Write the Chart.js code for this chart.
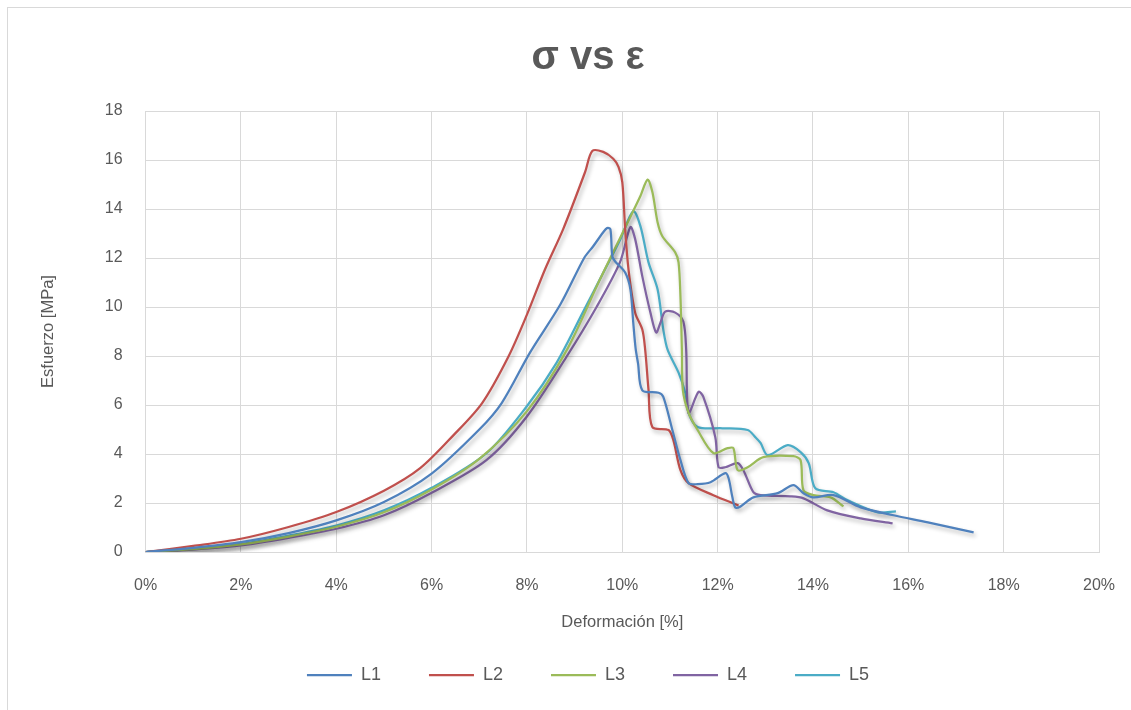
<!DOCTYPE html>
<html>
<head>
<meta charset="utf-8">
<script src="https://cdn.jsdelivr.net/npm/chart.js@4.4.1/dist/chart.umd.min.js"></script>
<style>
  html, body { margin: 0; padding: 0; background: #ffffff; overflow: hidden; }
  #wrap {
    position: absolute; left: 7px; top: 7px;
    width: 1160px; height: 720px;
    border: 1px solid #d9d9d9; background: #ffffff;
  }
</style>
</head>
<body>
<div id="wrap"><canvas id="chart"></canvas></div>
<script>
// Deformación [%] / Esfuerzo [MPa] por probeta
const l1Strain = [0, 1, 2, 3, 4, 5, 6, 7, 7.47, 8.06, 8.7, 9.2, 9.39, 9.6, 9.68, 9.75, 9.79, 9.85, 10.06, 10.17, 10.23, 10.28, 10.33, 10.42, 10.76, 10.86, 11.05, 11.22, 11.39, 11.58, 11.85, 12.16, 12.23, 12.31, 12.37, 12.48, 12.75, 13.26, 13.59, 13.8, 14.01, 14.43, 15.0, 15.69, 16.41, 17.37];
const l1Stress = [0, 0.17, 0.4, 0.77, 1.29, 2.04, 3.2, 5.0, 6.08, 8.13, 10.1, 12.0, 12.48, 13.05, 13.22, 13.18, 12.07, 11.86, 11.41, 10.72, 9.36, 8.3, 7.7, 6.6, 6.5, 6.33, 4.98, 3.75, 2.81, 2.77, 2.85, 3.22, 3.01, 2.23, 1.82, 1.86, 2.23, 2.4, 2.73, 2.4, 2.23, 2.32, 1.82, 1.5, 1.21, 0.8];

const l2Strain = [0, 1, 2, 3, 4, 5, 5.76, 6.46, 7.06, 7.61, 8.0, 8.38, 8.76, 9.22, 9.37, 9.6, 9.81, 9.92, 10.0, 10.06, 10.13, 10.27, 10.42, 10.48, 10.55, 10.63, 10.97, 11.07, 11.22, 11.39, 11.91, 12.44];
const l2Stress = [0, 0.25, 0.54, 1.02, 1.63, 2.5, 3.42, 4.77, 6.08, 7.97, 9.69, 11.54, 13.18, 15.51, 16.37, 16.33, 16.05, 15.72, 15.1, 13.18, 11.54, 9.77, 9.08, 8.26, 6.62, 5.1, 4.98, 4.57, 3.34, 2.81, 2.32, 1.9];

const l3Strain = [0, 1, 2, 3, 4, 5, 6, 7, 8, 8.84, 9.5, 10.0, 10.38, 10.53, 10.63, 10.74, 10.84, 11.11, 11.18, 11.22, 11.25, 11.27, 11.39, 11.58, 11.91, 12.21, 12.33, 12.42, 12.63, 12.96, 13.59, 13.74, 13.8, 14.01, 14.37, 14.64];
const l3Stress = [0, 0.12, 0.31, 0.63, 1.03, 1.62, 2.55, 3.8, 5.75, 8.26, 11.0, 13.0, 14.53, 15.2, 14.7, 13.46, 12.89, 12.23, 11.82, 10.43, 8.26, 6.62, 5.68, 4.98, 4.04, 4.24, 4.24, 3.34, 3.46, 3.87, 3.91, 3.75, 2.52, 2.32, 2.23, 1.86];

const l4Strain = [0, 1, 2, 3, 4, 5, 6, 7.15, 7.99, 8.83, 9.46, 9.95, 10.17, 10.27, 10.42, 10.59, 10.71, 10.8, 10.9, 11.11, 11.28, 11.34, 11.39, 11.6, 11.7, 11.95, 12.02, 12.16, 12.42, 12.54, 12.75, 12.9, 13.53, 13.8, 14.3, 15.0, 15.67];
const l4Stress = [0, 0.1, 0.27, 0.58, 0.95, 1.5, 2.42, 3.75, 5.51, 7.97, 10.0, 11.82, 13.26, 12.77, 11.25, 9.77, 8.96, 9.36, 9.81, 9.77, 9.41, 8.26, 5.68, 6.54, 6.33, 4.69, 3.46, 3.46, 3.63, 3.34, 2.44, 2.32, 2.27, 2.19, 1.7, 1.37, 1.17];

const l5Strain = [0, 1, 2, 3, 4, 5, 6, 7.15, 7.99, 8.62, 9.17, 9.67, 9.96, 10.23, 10.38, 10.55, 10.74, 10.86, 10.95, 11.18, 11.32, 11.39, 11.58, 12.1, 12.63, 12.79, 12.9, 13.05, 13.47, 13.74, 13.91, 14.05, 14.43, 14.73, 15.36, 15.74];
const l5Stress = [0, 0.13, 0.33, 0.67, 1.08, 1.7, 2.62, 4.03, 5.93, 7.72, 9.77, 11.66, 12.77, 13.91, 13.3, 11.82, 10.72, 9.08, 8.26, 7.32, 6.5, 5.68, 5.1, 5.05, 4.98, 4.69, 4.45, 3.95, 4.36, 4.08, 3.63, 2.6, 2.44, 2.11, 1.62, 1.66];

const seriesNames = ["L1", "L2", "L3", "L4", "L5"];
const seriesColors = ["#4f81bd", "#c0504d", "#9bbb59", "#8064a2", "#4bacc6"];
const strainTicks = [0, 2, 4, 6, 8, 10, 12, 14, 16, 18, 20];

const FONT = "'Liberation Sans', Arial, sans-serif";
const GRAY = "#595959";
const GRID = "#d9d9d9";

function toPoints(xs, ys) {
  return xs.map((x, i) => ({ x: x, y: ys[i] }));
}

const allStrain = [l1Strain, l2Strain, l3Strain, l4Strain, l5Strain];
const allStress = [l1Stress, l2Stress, l3Stress, l4Stress, l5Stress];

const datasets = seriesNames.map((name, i) => ({
  label: name,
  data: toPoints(allStrain[i], allStress[i]),
  borderColor: seriesColors[i],
  backgroundColor: seriesColors[i],
  borderWidth: 2.25,
  pointRadius: 0,
  tension: 0.3,
  fill: false,
}));

// sombra suave bajo las curvas, como en Excel
const lineShadow = {
  id: "lineShadow",
  beforeDatasetDraw(chart) {
    const ctx = chart.ctx;
    ctx.save();
    ctx.shadowColor = "rgba(0,0,0,0.28)";
    ctx.shadowBlur = 4;
    ctx.shadowOffsetX = 2;
    ctx.shadowOffsetY = 3;
  },
  afterDatasetDraw(chart) {
    chart.ctx.restore();
  },
};

const ctx = document.getElementById("chart").getContext("2d");
new Chart(ctx, {
  type: "line",
  data: { datasets: datasets },
  plugins: [lineShadow],
  options: {
    responsive: true,
    maintainAspectRatio: false,
    animation: false,
    layout: { padding: { left: 31, right: 31, top: 0, bottom: 34 } },
    plugins: {
      title: {
        display: true,
        text: "σ vs ε",
        color: GRAY,
        font: { family: FONT, size: 40, weight: "bold" },
        padding: { top: 26, bottom: 29 },
      },
      legend: {
        position: "bottom",
        labels: {
          color: GRAY,
          font: { family: FONT, size: 18 },
          usePointStyle: true,
          pointStyle: "line",
          pointStyleWidth: 45,
          padding: 48,
        },
      },
      tooltip: { enabled: false },
    },
    scales: {
      x: {
        type: "linear",
        min: 0,
        max: 20,
        afterBuildTicks: (axis) => {
          axis.ticks = strainTicks.map((v) => ({ value: v }));
        },
        ticks: {
          color: GRAY,
          font: { family: FONT, size: 16 },
          padding: 23.5,
          maxRotation: 0,
          callback: (v) => v + "%",
        },
        grid: { color: GRID, drawTicks: false },
        border: { color: GRID, width: 1 },
        title: {
          display: true,
          text: "Deformación [%]",
          color: GRAY,
          font: { family: FONT, size: 16.5 },
          padding: { top: -6, bottom: -14 },
        },
      },
      y: {
        min: 0,
        max: 18,
        ticks: {
          stepSize: 2,
          color: GRAY,
          font: { family: FONT, size: 16 },
          padding: 23,
        },
        grid: { color: GRID, drawTicks: false },
        border: { color: GRID, width: 1 },
        title: {
          display: true,
          text: "Esfuerzo [MPa]",
          color: GRAY,
          font: { family: FONT, size: 16.5 },
          padding: { top: 0, bottom: 23 },
        },
      },
      // eje derecho vacío: sólo reserva el margen a la derecha del área de trazado
      yRight: {
        position: "right",
        display: true,
        min: 0,
        max: 18,
        ticks: { display: false },
        grid: { display: false },
        border: { display: false },
        afterFit: (scale) => {
          scale.width = 38;
        },
      },
    },
  },
});
</script>
</body>
</html>
